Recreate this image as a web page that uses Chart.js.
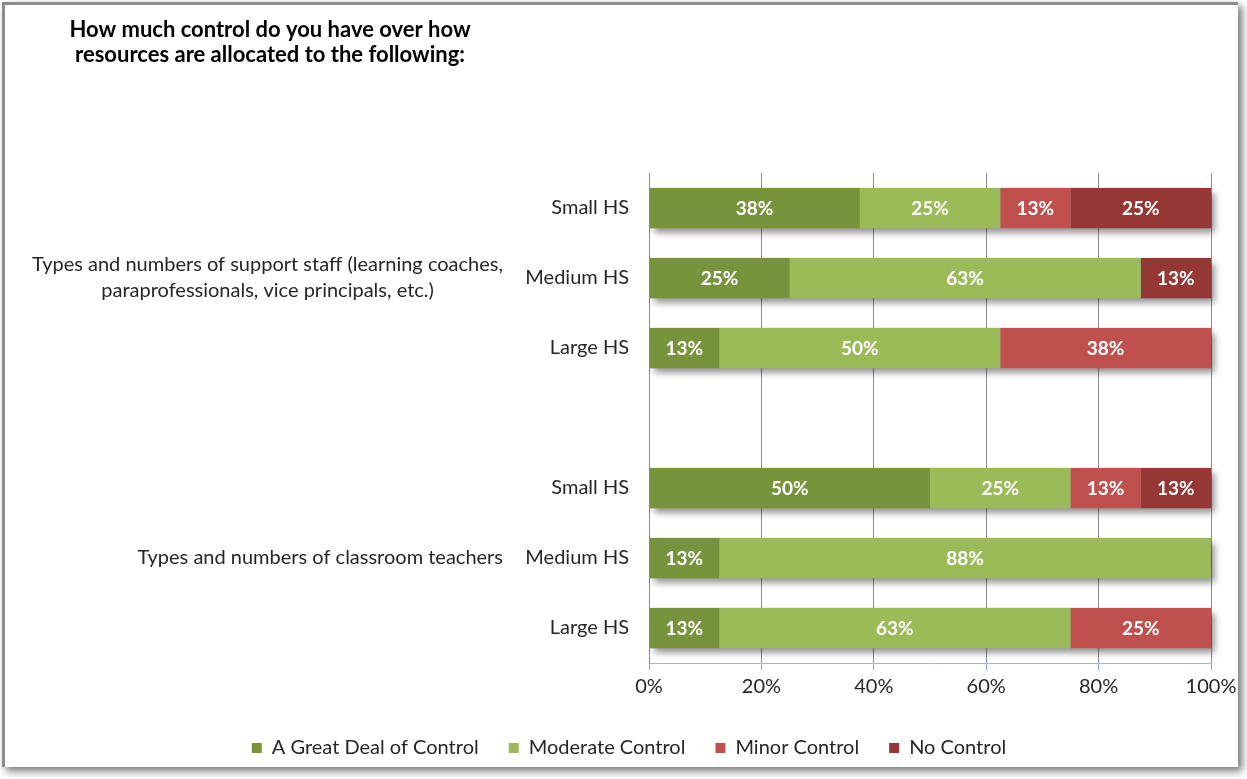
<!DOCTYPE html>
<html><head><meta charset="utf-8">
<script src="https://cdn.jsdelivr.net/npm/chart.js@4.4.1/dist/chart.umd.min.js"></script>
<style>
html,body{margin:0;padding:0;background:#fff;width:1247px;height:779px;overflow:hidden;}
#frame{position:absolute;left:2px;top:2px;width:1233px;height:762px;border-top:3px solid #8c8c8c;border-left:3px solid #8c8c8c;box-shadow:4px 4px 8px rgba(0,0,0,0.55);background:#fff;}
#c{position:absolute;left:0;top:0;}
</style></head><body>
<div id="frame"></div>
<canvas id="c" width="1247" height="779"></canvas>
<script>
// ---- data ----
const titleLines = ['How much control do you have over how', 'resources are allocated to the following:'];
const rowLabels = ['Small HS', 'Medium HS', 'Large HS', '', 'Small HS', 'Medium HS', 'Large HS'];
const groupRows = [1, 5];
const groupTexts = [
  ['Types and numbers of support staff (learning coaches,', 'paraprofessionals, vice principals, etc.)'],
  ['Types and numbers of classroom teachers']
];
const seriesNames = ['A Great Deal of Control', 'Moderate Control', 'Minor Control', 'No Control'];
const greatDeal = [37.5, 25, 12.5, null, 50, 12.5, 12.5];
const moderate  = [25, 62.5, 50, null, 25, 87.5, 62.5];
const minor     = [12.5, 0, 37.5, null, 12.5, 0, 25];
const noControl = [25, 12.5, 0, null, 12.5, 0, 0];
const xTicks = [0, 20, 40, 60, 80, 100];
const seriesColors = ['#77933C', '#9BBB59', '#C0504D', '#953735'];

const FONT = 'Lato';
const TXT = '#262626';
const PLOT_LEFT = 649;
const PAD = {left: 47, right: 36, top: 173, bottom: 11};

const annotate = {
  id: 'annotate',
  beforeDatasetsDraw(chart) {
    const ctx = chart.ctx;
    const n = rowLabels.length;
    ctx.save();
    ctx.shadowColor = 'rgba(0,0,0,0.45)';
    ctx.shadowBlur = 7;
    ctx.shadowOffsetX = 4;
    ctx.shadowOffsetY = 5;
    ctx.fillStyle = '#999';
    for (let i = 0; i < n; i++) {
      let l = Infinity, r = -Infinity, t = 0, h = 0, any = false;
      chart.data.datasets.forEach((ds, d) => {
        const el = chart.getDatasetMeta(d).data[i];
        const v = ds.data[i];
        if (!el || v == null || v === 0) return;
        const p = el.getProps(['x', 'y', 'base', 'height'], true);
        l = Math.min(l, p.base, p.x); r = Math.max(r, p.base, p.x);
        t = p.y - p.height / 2; h = p.height; any = true;
      });
      if (any) ctx.fillRect(l, t, r - l, h);
    }
    ctx.restore();
  },
  afterDatasetsDraw(chart) {
    const ctx = chart.ctx;
    ctx.save();
    ctx.font = 'bold 19px ' + FONT;
    ctx.fillStyle = '#fff';
    ctx.textAlign = 'center';
    ctx.textBaseline = 'middle';
    chart.data.datasets.forEach((ds, d) => {
      chart.getDatasetMeta(d).data.forEach((el, i) => {
        const v = ds.data[i];
        if (v == null || v === 0) return;
        const p = el.getProps(['x', 'y', 'base'], true);
        ctx.fillText(Math.round(v) + '%', (p.x + p.base) / 2, p.y + 1);
      });
    });
    ctx.restore();
  },
  afterDraw(chart) {
    const ctx = chart.ctx;
    const ys = chart.scales.y;
    ctx.save();
    ctx.fillStyle = TXT;
    ctx.textBaseline = 'middle';
    ctx.textAlign = 'center';
    // group labels
    ctx.font = '20px ' + FONT;
    const rightEdge = chart.chartArea.left - 146;
    groupRows.forEach((row, g) => {
      const lines = groupTexts[g];
      const w = Math.max(...lines.map(s => ctx.measureText(s).width));
      const cx = rightEdge - w / 2;
      const cy = ys.getPixelForValue(row);
      const lh = 26;
      lines.forEach((s, k) => {
        ctx.fillText(s, cx, cy + (k - (lines.length - 1) / 2) * lh);
      });
    });
    // title
    ctx.font = 'bold 22px ' + FONT;
    ctx.fillStyle = '#000';
    titleLines.forEach((s, k) => ctx.fillText(s, 270, 30 + k * 25));
    ctx.restore();
  }
};

new Chart(document.getElementById('c'), {
  type: 'bar',
  data: {
    labels: rowLabels,
    datasets: [greatDeal, moderate, minor, noControl].map((arr, i) => ({
      label: seriesNames[i],
      data: arr,
      backgroundColor: seriesColors[i],
      borderWidth: 0,
      categoryPercentage: 1,
      barPercentage: 0.575
    }))
  },
  options: {
    indexAxis: 'y',
    responsive: false,
    animation: false,
    devicePixelRatio: 1,
    layout: {padding: PAD},
    font: {family: FONT},
    scales: {
      x: {
        stacked: true,
        min: 0, max: 100,
        afterBuildTicks(s) { s.ticks = xTicks.map(v => ({value: v})); },
        afterFit(s) { s.height = 45; },
        ticks: {
          callback: v => v + '%',
          color: TXT,
          font: {family: FONT, size: 20},
          padding: 5,
          maxRotation: 0
        },
        grid: {color: '#8c8c8c', lineWidth: 1, tickColor: '#7ea0cf', tickLength: 7},
        border: {color: '#9db8dc', width: 1}
      },
      y: {
        stacked: true,
        afterFit(s) { s.width = PLOT_LEFT - PAD.left; },
        ticks: {color: TXT, font: {family: FONT, size: 20}, padding: 20},
        grid: {display: false, drawTicks: false},
        border: {color: '#8c8c8c', width: 1}
      }
    },
    plugins: {
      legend: {
        position: 'bottom',
        labels: {
          boxWidth: 10, boxHeight: 10,
          padding: 30,
          color: TXT,
          font: {family: FONT, size: 20}
        }
      },
      tooltip: {enabled: false},
      title: {display: false}
    }
  },
  plugins: [annotate]
});
</script>
</body></html>
